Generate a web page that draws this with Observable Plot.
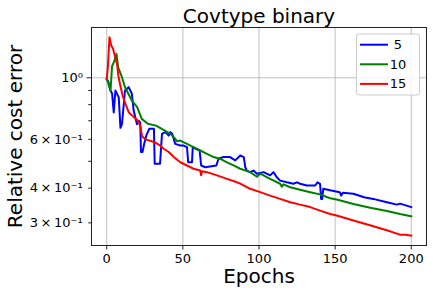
<!DOCTYPE html>
<html>
<head>
<meta charset="utf-8">
<script src="https://cdn.jsdelivr.net/npm/d3@7"></script>
<script src="https://cdn.jsdelivr.net/npm/@observablehq/plot@0.6"></script>
<style>
  html, body { margin: 0; padding: 0; background: white; }
</style>
</head>
<body>
<div id="chart"></div>
<script>
const seriesNames = ["5", "10", "15"];
const seriesColors = ["blue", "green", "red"];

const epochs5 = [0,1,2.4,3.5,4.6,5.7,7.9,9,10,12,14.4,16.5,17.7,19.9,21,22,22.5,23.5,24.5,26,28,31,31.5,35,36.3,38.5,40.7,41.8,43,45,48.3,50.5,52.7,53.5,56,56.5,61,62,64.7,72,73.4,76.7,81,84.4,87.7,90,91,92,94.2,96.4,98.6,103,107.3,109.5,111.7,113.9,118.3,122.6,124.9,127,131.4,136.9,138.4,140.1,140.8,141.5,142.2,146.7,153,154,155,162,169,175,184,190.5,192.6,200];
const cost5 = [0.99,0.97,0.90,0.88,0.75,0.90,0.85,0.66,0.68,0.90,0.925,0.876,0.76,0.68,0.70,0.69,0.54,0.54,0.575,0.62,0.655,0.655,0.49,0.49,0.628,0.637,0.619,0.637,0.628,0.578,0.570,0.570,0.562,0.496,0.496,0.562,0.547,0.483,0.476,0.483,0.511,0.518,0.518,0.504,0.525,0.518,0.476,0.463,0.457,0.463,0.451,0.457,0.445,0.457,0.438,0.426,0.420,0.415,0.420,0.415,0.409,0.409,0.420,0.415,0.366,0.366,0.398,0.393,0.387,0.376,0.385,0.382,0.371,0.366,0.356,0.349,0.352,0.342];

const epochs10 = [0,0.7,2.5,3.5,5,6.4,7.5,10,12,16.5,20,23,27,31,33,37,41.8,45,46,48.3,52.7,57,61.4,65.8,70.2,74.6,79,83.3,87.7,94.2,98.6,100.8,107.3,113.9,115,116,120.5,127,133.6,140.1,146.7,151,162,173,184,192.6,200];
const cost10 = [0.99,0.97,0.90,1.10,1.15,1.22,1.09,1.005,0.925,0.828,0.784,0.711,0.683,0.675,0.67,0.65,0.628,0.603,0.59,0.594,0.578,0.562,0.547,0.532,0.518,0.510,0.496,0.483,0.470,0.457,0.440,0.451,0.432,0.415,0.405,0.413,0.403,0.395,0.387,0.380,0.368,0.364,0.351,0.340,0.331,0.323,0.317];

const epochs15 = [0,0.8,1.8,2.9,4.2,5,6.8,7.6,8.7,10.5,12.5,14.5,18,20.5,22.1,23.2,25.4,29,32,35.2,37.4,40.7,44,48.3,52.7,57,61.4,62,62.6,65.8,72.4,79,85.5,88,94.2,100.8,107.3,113.9,120.5,127,133.6,140.1,146.7,151,162,172.9,183.9,192.6,196,200];
const cost15 = [0.99,1.10,1.40,1.31,1.27,1.22,1.12,1.02,0.95,0.86,0.80,0.75,0.72,0.70,0.67,0.615,0.60,0.592,0.584,0.569,0.555,0.54,0.518,0.496,0.483,0.47,0.463,0.445,0.46,0.457,0.445,0.432,0.42,0.415,0.398,0.387,0.376,0.366,0.356,0.349,0.342,0.332,0.323,0.319,0.306,0.294,0.282,0.272,0.272,0.270];

const xTicks = [0, 50, 100, 150, 200];
const yMajorTicks = [1];
const yMinorTicks = [0.3, 0.4, 0.5, 0.6, 0.7, 0.8, 0.9];
const yTickLabels = {
  1: "10\u2070",
  0.3: "3\u2009\u00d7\u200910\u207b\u00b9",
  0.4: "4\u2009\u00d7\u200910\u207b\u00b9",
  0.6: "6\u2009\u00d7\u200910\u207b\u00b9"
};

const titleText = "Covtype binary";
const xLabel = "Epochs";
const yLabel = "Relative cost error";

const allEpochs = [epochs5, epochs10, epochs15];
const allCosts = [cost5, cost10, cost15];
const data = [];
seriesNames.forEach((name, i) => {
  allEpochs[i].forEach((e, j) => data.push({epoch: e, cost: allCosts[i][j], series: name}));
});

const gridStyle = {stroke: "#b0b0b0", strokeOpacity: 1, strokeWidth: 0.8};
const yFormat = d => yTickLabels[d] || "";

const chart = Plot.plot({
  width: 433,
  height: 295,
  marginLeft: 91,
  marginRight: 7,
  marginTop: 27,
  marginBottom: 50,
  style: {fontFamily: "DejaVu Sans", fontSize: "13px", background: "white", color: "black"},
  x: {domain: [-10, 210], label: null},
  y: {type: "log", domain: [0.2486, 1.518], label: null},
  color: {domain: seriesNames, range: seriesColors},
  marks: [
    Plot.gridX(xTicks, gridStyle),
    Plot.gridY(yMajorTicks, gridStyle),
    Plot.line(data, {x: "epoch", y: "cost", z: "series", stroke: "series", strokeWidth: 2, strokeLinejoin: "round", strokeLinecap: "square", curve: "linear"}),
    Plot.frame({stroke: "#222", strokeWidth: 1}),
    Plot.axisX(xTicks, {tickSize: 4.5, tickPadding: 4, fontSize: 13, stroke: "#222"}),
    Plot.axisY(yMajorTicks, {tickSize: 4.5, tickPadding: 4, fontSize: 13, tickFormat: yFormat, stroke: "#222"}),
    Plot.axisY(yMinorTicks, {tickSize: 2.8, tickPadding: 6, fontSize: 13, tickFormat: yFormat, stroke: "#222"}),
    Plot.text([titleText], {frameAnchor: "top", dy: -11, fontSize: 20, lineAnchor: "middle", textAnchor: "middle", fill: "black"}),
    Plot.text([xLabel], {frameAnchor: "bottom", dy: 31, fontSize: 20, lineAnchor: "middle", textAnchor: "middle", fill: "black"}),
    Plot.text([yLabel], {frameAnchor: "left", dx: -76, rotate: -90, fontSize: 20, lineAnchor: "middle", textAnchor: "middle", fill: "black"})
  ]
});

// legend
const svg = d3.select(chart);
const lg = svg.append("g").attr("font-family", "DejaVu Sans").attr("font-size", 13);
lg.append("rect")
  .attr("x", 356.5).attr("y", 34).attr("width", 63).attr("height", 61).attr("rx", 2.5)
  .attr("fill", "white").attr("fill-opacity", 0.85).attr("stroke", "#cccccc").attr("stroke-width", 1);
seriesNames.forEach((name, i) => {
  const yy = 44.7 + i * 19.6;
  lg.append("line").attr("x1", 360).attr("x2", 388).attr("y1", yy).attr("y2", yy)
    .attr("stroke", seriesColors[i]).attr("stroke-width", 2);
  lg.append("text").attr("x", 398).attr("y", yy).attr("dy", "0.35em").attr("fill", "black").text(name);
});

document.getElementById("chart").appendChild(chart);
</script>
</body>
</html>
